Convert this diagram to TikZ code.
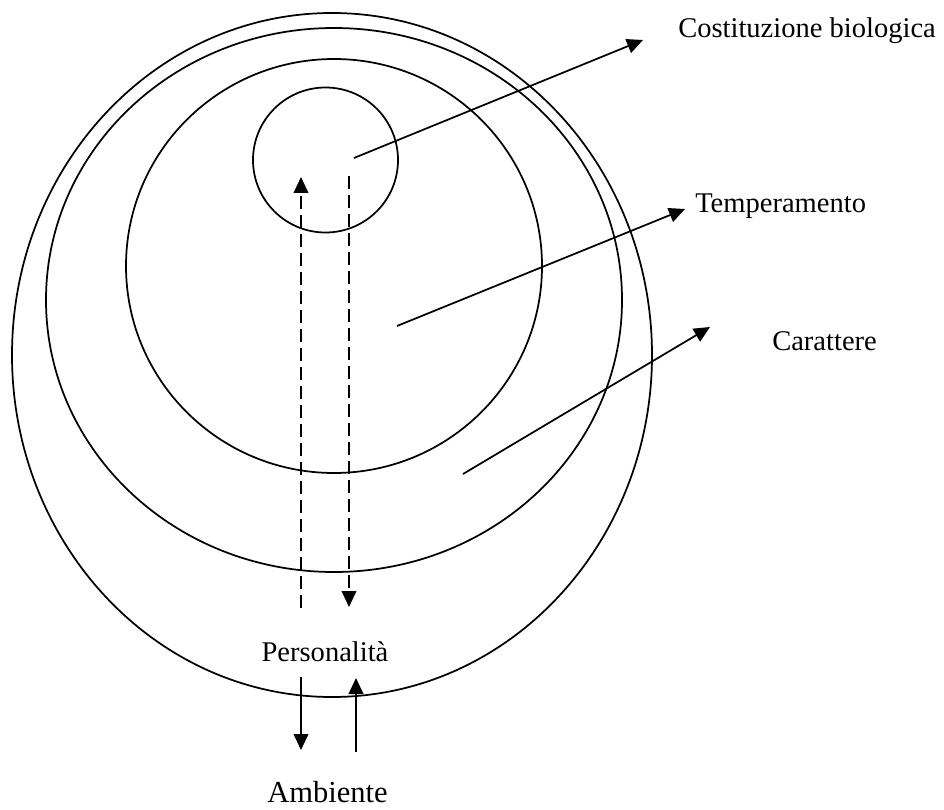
\documentclass[tikz,border=0pt]{standalone}
\usepackage{fontspec}
\setmainfont{Liberation Serif}
\usetikzlibrary{shapes.geometric,arrows.meta}
\begin{document}
\begin{tikzpicture}[x=0.75pt,y=-0.75pt,
  ring/.style={draw,ellipse,line width=1.3pt,inner sep=0pt},
  lbl/.style={inner sep=0pt,font=\fontsize{21.4}{25}\selectfont},
  arr/.style={line width=1.3pt,-{Triangle[length=12pt,width=11pt]}},
  dsh/.style={arr,dash pattern=on 9.75pt off 4.5pt}]
\useasboundingbox (0,0) rectangle (944,809);
\node[ring,minimum width=480pt,minimum height=513pt] (outer) at (332,355) {};
\node[ring,minimum width=432pt,minimum height=408pt] (second) at (334,300) {};
\node[ring,minimum width=312pt,minimum height=310.5pt] (third) at (334,266) {};
\node[ring,minimum width=108.75pt,minimum height=108.75pt] (small) at (325.5,160) {};
% labels
\node[lbl,anchor=base west] (cost) at (678,38) {Costituzione biologica};
\node[lbl,anchor=base west] (temp) at (695,213) {Temperamento};
\node[lbl,anchor=base west] (car) at (772,350) {Carattere};
\node[lbl,anchor=base] (pers) at (325,661) {Personalità};
\node[lbl,anchor=base,font=\fontsize{22.9}{27}\selectfont] (amb) at (327.5,802) {Ambiente};
% arrow endpoints
\coordinate (a1s) at (354,158); \coordinate (a1e) at (643,40);
\coordinate (a2s) at (397,326); \coordinate (a2e) at (685,209);
\coordinate (a3s) at (463,474); \coordinate (a3e) at (710,327);
\coordinate (d1s) at (301,608); \coordinate (d1e) at (301,177);
\coordinate (d2s) at (349,176); \coordinate (d2e) at (349,607);
\coordinate (s1s) at (301,677); \coordinate (s1e) at (301,750);
\coordinate (s2s) at (356,752); \coordinate (s2e) at (356,678);
\draw[arr] (a1s) -- (a1e);
\draw[arr] (a2s) -- (a2e);
\draw[arr] (a3s) -- (a3e);
\draw[dsh] (d1s) -- (d1e);
\draw[dsh] (d2s) -- (d2e);
\draw[arr] (s1s) -- (s1e);
\draw[arr] (s2s) -- (s2e);
\end{tikzpicture}
\end{document}
